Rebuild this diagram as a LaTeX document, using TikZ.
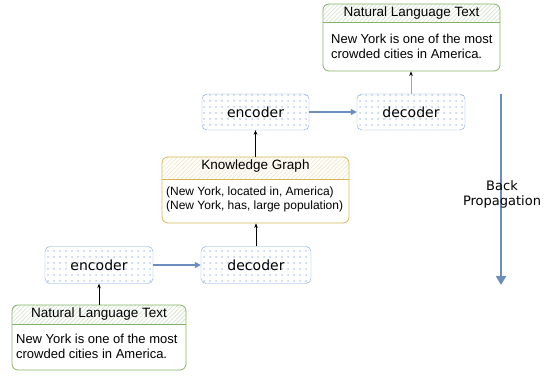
\documentclass[tikz,border=0pt]{standalone}
\usepackage{fontspec}
\setmainfont{Liberation Sans}
\newfontfamily\handfont{DejaVu Sans}
\usetikzlibrary{arrows.meta, positioning, calc, patterns.meta}
\definecolor{boxblue}{RGB}{126,166,224}
\definecolor{dotblue}{RGB}{185,205,240}
\definecolor{flowblue}{RGB}{108,142,191}
\definecolor{textgreen}{RGB}{130,179,102}
\definecolor{kgyellow}{RGB}{214,182,86}

\begin{document}
\begin{tikzpicture}[x=1pt, y=-1pt,
  coder/.style={draw=boxblue, rounded corners=5pt, minimum width=108pt, minimum height=37pt,
    pattern={Dots[distance=6pt, radius=1pt]}, pattern color=dotblue,
    font=\handfont\fontsize{14}{16}\selectfont},
  card/.style 2 args={draw=#1, thick, rounded corners=6pt,
    path picture={
      \fill[pattern={Lines[angle=45, distance=3pt]}, pattern color=#1!30]
        (path picture bounding box.north west) rectangle ([yshift=-#2]path picture bounding box.north east);
      \draw[#1, thick] ([yshift=-#2]path picture bounding box.north west) -- ([yshift=-#2]path picture bounding box.north east);
    }},
  txt/.style={font=\fontsize{13}{15}\selectfont, align=left},
  ttl/.style={font=\fontsize{13.5}{15}\selectfont},
  flow/.style={-{Triangle[length=6pt, width=6pt]}, flowblue, line width=1.2pt},
  link/.style={-{Stealth[length=4.5pt, width=3.5pt]}, black, line width=0.6pt},
  uplink/.style={-{Stealth[length=4.5pt, width=3.5pt, black]}, gray!70, line width=1pt},
  backflow/.style={-{Triangle[length=9pt, width=10pt]}, flowblue, line width=2pt}
]
\useasboundingbox (0,0) rectangle (548,377);

% first pass: text -> graph
\node[coder] (enc1) at (99,265) {encoder};
\node[coder, minimum width=110pt] (dec1) at (256,265) {decoder};
\node[card={textgreen}{19pt}, minimum width=174pt, minimum height=65pt] (nlin) at (99,337.5) {};
\node[ttl] (nlin-title) at ($(nlin.north)+(0,9.5)$) {Natural Language Text};
\node[txt, anchor=west] (nlin-body) at ($(nlin.west)+(1,9)$) {New York is one of the most\\crowded cities in America.};

% knowledge graph
\node[card={kgyellow}{22pt}, minimum width=187pt, minimum height=66pt] (kg) at (255.5,190) {};
\node[ttl] (kg-title) at ($(kg.north)+(0,9.5)$) {Knowledge Graph};
\node[txt, font=\fontsize{12}{14}\selectfont, anchor=west] (kg-body) at ($(kg.west)+(1,9)$) {(New York, located in, America)\\(New York, has, large population)};

% second pass: graph -> text
\node[coder, minimum height=36pt, minimum width=107pt] (enc2) at (255.5,112) {encoder};
\node[coder, minimum height=36pt] (dec2) at (411,112) {decoder};
\node[card={textgreen}{18pt}, minimum width=177pt, minimum height=67pt] (nlout) at (411.5,37.5) {};
\node[ttl] (nlout-title) at ($(nlout.north)+(0,9)$) {Natural Language Text};
\node[txt, anchor=west] (nlout-body) at ($(nlout.west)+(5,8.5)$) {New York is one of the most\\crowded cities in America.};

\draw[link] (nlin.north) -- (enc1.south);
\draw[flow] (enc1) -- (dec1);
\draw[link] (dec1.north) -- (dec1.north |- kg.south);
\draw[link] (kg.north) -- (kg.north |- enc2.south);
\draw[flow] (enc2) -- (dec2);
\draw[uplink] (dec2.north) -- (dec2.north |- nlout.south);

% back propagation
\coordinate (bp-top) at (501,94);
\coordinate (bp-bot) at (501,285);
\draw[backflow] (bp-top) -- (bp-bot);
\node[font=\handfont\fontsize{13}{15}\selectfont, align=center] (bp-label) at (502,194) {Back\\Propagation};
\end{tikzpicture}
\end{document}
